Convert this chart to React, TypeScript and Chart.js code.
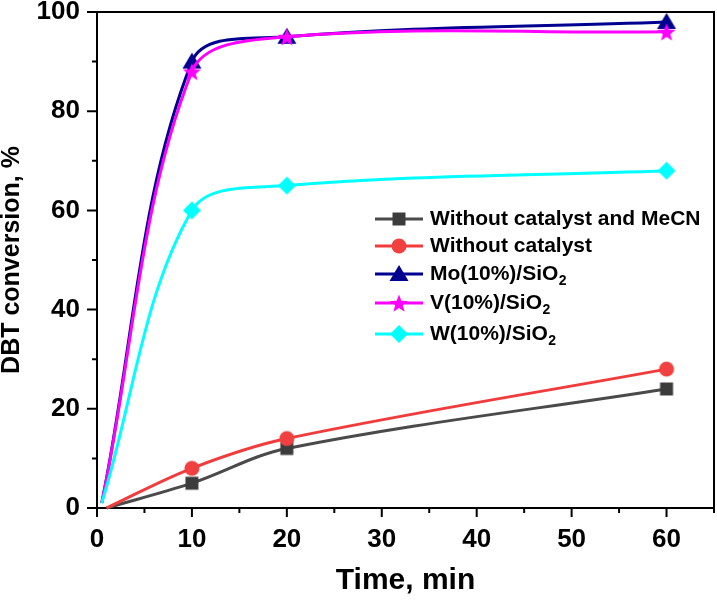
import React, { useEffect, useRef } from 'react';
import { Chart, registerables } from 'chart.js';

Chart.register(...registerables);

const seriesNames = [
  'Without catalyst and MeCN',
  'Without catalyst',
  'Mo(10%)/SiO₂',
  'V(10%)/SiO₂',
  'W(10%)/SiO₂',
];
const timesLow = [1, 10, 20, 60];
const timesHigh = [0.5, 10, 20, 60];
const noCatMeCN = [0, 5, 12, 24];
const noCat = [0, 8, 14, 28];
const moSiO2 = [1, 90, 95, 98];
const vSiO2 = [1, 88, 95, 96];
const wSiO2 = [1, 60, 65, 68];
const xTicks = [0, 10, 20, 30, 40, 50, 60];
const xMinorTicks = [5, 15, 25, 35, 45, 55, 65];
const yTicks = [0, 20, 40, 60, 80, 100];
const yMinorTicks = [10, 30, 50, 70, 90];

const colors = ['#4a4a4a', '#f03c3c', '#000090', '#ff00ff', '#00ffff'];
const markerColors = ['#3c3c3c', '#f04040', '#000090', '#ff00ff', '#00ffff'];
const shapes = ['square', 'circle', 'triangle', 'star', 'diamond'];

const FONT = "'Liberation Sans', Arial, sans-serif";

function makeMarker(shape: string, color: string): HTMLCanvasElement {
  const c = document.createElement('canvas');
  c.width = 24;
  c.height = 24;
  const ctx = c.getContext('2d')!;
  ctx.fillStyle = color;
  const cx = 12, cy = 12;
  ctx.beginPath();
  if (shape === 'square') {
    ctx.rect(cx - 6.5, cy - 6.5, 13, 13);
  } else if (shape === 'circle') {
    ctx.arc(cx, cy, 7.5, 0, Math.PI * 2);
  } else if (shape === 'triangle') {
    ctx.moveTo(cx, cy - 9);
    ctx.lineTo(cx + 9.5, cy + 7);
    ctx.lineTo(cx - 9.5, cy + 7);
    ctx.closePath();
  } else if (shape === 'star') {
    for (let i = 0; i < 10; i++) {
      const r = i % 2 === 0 ? 9.5 : 4;
      const a = -Math.PI / 2 + (i * Math.PI) / 5;
      const px = cx + r * Math.cos(a);
      const py = cy + 1 + r * Math.sin(a);
      if (i === 0) ctx.moveTo(px, py);
      else ctx.lineTo(px, py);
    }
    ctx.closePath();
  } else if (shape === 'diamond') {
    ctx.moveTo(cx, cy - 9);
    ctx.lineTo(cx + 9, cy);
    ctx.lineTo(cx, cy + 9);
    ctx.lineTo(cx - 9, cy);
    ctx.closePath();
  }
  ctx.fill();
  return c;
}

export default function App() {
  const ref = useRef<HTMLCanvasElement | null>(null);

  useEffect(() => {
    const markers = shapes.map((s, i) => makeMarker(s, markerColors[i]));
    const seriesData = [noCatMeCN, noCat, moSiO2, vSiO2, wSiO2];
    const seriesTimes = [timesLow, timesLow, timesHigh, timesHigh, timesHigh];

    const datasets = seriesData.map((vals, i) => ({
      label: seriesNames[i],
      data: vals.map((v, j) => ({ x: seriesTimes[i][j], y: v })),
      borderColor: colors[i],
      backgroundColor: colors[i],
      borderWidth: 3,
      tension: 0.35,
      pointStyle: markers[i],
      pointRadius: (ctx: any) => (ctx.dataIndex === 0 ? 0 : 9),
      order: 5 - i,
      clip: false as any,
    }));

    const framePlugin = {
      id: 'frameAndTicks',
      afterDraw(chart: any) {
        const { ctx, chartArea } = chart;
        const xs = chart.scales.x;
        const ys = chart.scales.y;
        ctx.save();
        ctx.strokeStyle = '#000';
        ctx.lineWidth = 2;
        ctx.beginPath();
        ctx.moveTo(chartArea.left - 1, chartArea.top);
        ctx.lineTo(chartArea.right, chartArea.top);
        ctx.lineTo(chartArea.right, chartArea.bottom + 1);
        ctx.stroke();
        ctx.beginPath();
        xTicks.forEach((v) => {
          const p = xs.getPixelForValue(v);
          ctx.moveTo(p, chartArea.bottom);
          ctx.lineTo(p, chartArea.bottom + 9);
        });
        xMinorTicks.forEach((v) => {
          const p = xs.getPixelForValue(v);
          ctx.moveTo(p, chartArea.bottom);
          ctx.lineTo(p, chartArea.bottom + 5);
        });
        yTicks.forEach((v) => {
          const p = ys.getPixelForValue(v);
          ctx.moveTo(chartArea.left, p);
          ctx.lineTo(chartArea.left - 10, p);
        });
        yMinorTicks.forEach((v) => {
          const p = ys.getPixelForValue(v);
          ctx.moveTo(chartArea.left, p);
          ctx.lineTo(chartArea.left - 5, p);
        });
        ctx.stroke();

        const lx = chartArea.left + 278;
        const rows = [219, 246, 274, 303, 334];
        seriesNames.forEach((name, i) => {
          const y = rows[i];
          ctx.strokeStyle = colors[i];
          ctx.lineWidth = 3;
          ctx.beginPath();
          ctx.moveTo(lx, y);
          ctx.lineTo(lx + 48, y);
          ctx.stroke();
          const m = markers[i];
          ctx.drawImage(m, lx + 24 - m.width / 2, y - m.height / 2);
          ctx.fillStyle = '#000';
          ctx.textBaseline = 'middle';
          ctx.textAlign = 'left';
          const parts = name.split('₂');
          let tx = lx + 55;
          parts.forEach((part, k) => {
            ctx.font = `bold 21px ${FONT}`;
            ctx.fillText(part, tx, y);
            tx += ctx.measureText(part).width;
            if (k < parts.length - 1) {
              ctx.font = `bold 14px ${FONT}`;
              ctx.fillText('2', tx + 0.5, y + 7);
              tx += ctx.measureText('2').width + 0.5;
            }
          });
        });
        ctx.restore();
      },
    };

    const chart = new Chart(ref.current!, {
      type: 'line',
      data: { datasets: datasets as any },
      plugins: [framePlugin],
      options: {
        animation: false,
        responsive: false,
        layout: { autoPadding: false, padding: { top: 12, right: 3, left: 0, bottom: 0 } },
        plugins: { legend: { display: false }, tooltip: { enabled: false } },
        scales: {
          x: {
            type: 'linear',
            min: 0,
            max: 65,
            afterBuildTicks: (scale: any) => {
              scale.ticks = xTicks.map((v) => ({ value: v }));
            },
            afterFit: (scale: any) => {
              scale.height = 94;
              scale.paddingLeft = 0;
              scale.paddingRight = 0;
            },
            grid: { display: false, drawTicks: false },
            border: { display: true, color: '#000', width: 2 },
            ticks: {
              color: '#000',
              padding: 16,
              maxRotation: 0,
              font: { family: FONT, size: 26, weight: 'bold' },
            },
            title: {
              display: true,
              text: 'Time, min',
              color: '#000',
              padding: { top: 0, bottom: 6 },
              font: { family: FONT, size: 30, weight: 'bold', lineHeight: 1 },
            },
          },
          y: {
            type: 'linear',
            min: 0,
            max: 100,
            afterBuildTicks: (scale: any) => {
              scale.ticks = yTicks.map((v) => ({ value: v }));
            },
            afterFit: (scale: any) => {
              scale.width = 97;
              scale.paddingTop = 0;
              scale.paddingBottom = 0;
            },
            grid: { display: false, drawTicks: false },
            border: { display: true, color: '#000', width: 2 },
            ticks: {
              color: '#000',
              padding: 17,
              font: { family: FONT, size: 26, weight: 'bold' },
            },
            title: {
              display: true,
              text: 'DBT conversion, %',
              color: '#000',
              padding: 0,
              font: { family: FONT, size: 25, weight: 'bold', lineHeight: 1 },
            },
          },
        },
      } as any,
    });
    return () => chart.destroy();
  }, []);

  return (
    <div style={{ position: 'absolute', left: 0, top: 0, width: 717, height: 602, background: '#fff' }}>
      <canvas ref={ref} width={717} height={602} />
    </div>
  );
}
